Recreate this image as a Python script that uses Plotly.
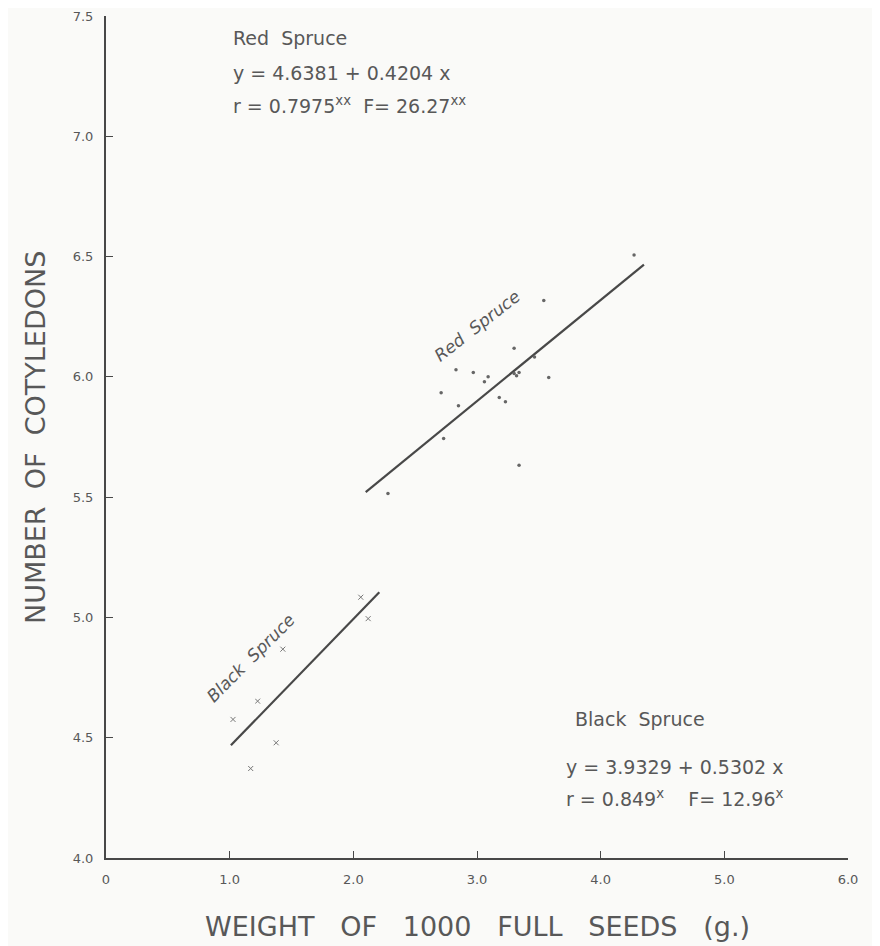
import plotly.graph_objects as go

# Red spruce data (weight of 1000 full seeds g, number of cotyledons)
red_x = [4.27, 3.54, 3.30, 3.465, 2.83, 2.97, 3.09, 3.06, 3.30, 3.34, 3.32, 3.58, 2.71, 2.85, 3.18, 3.23, 2.73, 3.34, 2.28]
red_y = [6.507, 6.317, 6.119, 6.083, 6.03, 6.018, 6.0, 5.98, 6.014, 6.018, 6.005, 5.997, 5.934, 5.88, 5.914, 5.897, 5.744, 5.633, 5.515]

# Black spruce data
black_x = [2.06, 2.12, 1.43, 1.226, 1.027, 1.376, 1.17]
black_y = [5.084, 4.995, 4.868, 4.652, 4.576, 4.479, 4.372]

# Regression equations and ranges
red_a, red_b = 4.6381, 0.4204
red_range = [2.1, 4.35]
black_a, black_b = 3.9329, 0.5302
black_range = [1.01, 2.21]

x_ticks = [0, 1, 2, 3, 4, 5, 6]
x_ticktext = ["0", "1.0", "2.0", "3.0", "4.0", "5.0", "6.0"]
y_ticks = [4.0, 4.5, 5.0, 5.5, 6.0, 6.5, 7.0, 7.5]
y_ticktext = ["4.0", "4.5", "5.0", "5.5", "6.0", "6.5", "7.0", "7.5"]

INK = "#585858"
AXIS = "#484848"
FONT = "DejaVu Sans"

fig = go.Figure()

fig.add_trace(go.Scatter(
    x=red_range, y=[red_a + red_b * v for v in red_range],
    mode="lines", line=dict(color=AXIS, width=2.2), showlegend=False))
fig.add_trace(go.Scatter(
    x=black_range, y=[black_a + black_b * v for v in black_range],
    mode="lines", line=dict(color=AXIS, width=2.2), showlegend=False))
fig.add_trace(go.Scatter(
    x=red_x, y=red_y, mode="markers",
    marker=dict(color="#666666", size=3.5, symbol="circle"), showlegend=False))
fig.add_trace(go.Scatter(
    x=black_x, y=black_y, mode="markers",
    marker=dict(color="#777777", size=5, symbol="x-thin", line=dict(color="#777777", width=1)),
    showlegend=False))

annots = [
    dict(x=1.01, y=7.41, text="Red  Spruce"),
    dict(x=1.01, y=7.264, text="y = 4.6381 + 0.4204 x"),
    dict(x=1.01, y=7.128, text="r = 0.7975<sup>xx</sup>  F= 26.27<sup>xx</sup>"),
    dict(x=3.78, y=4.579, text="Black  Spruce"),
    dict(x=3.70, y=4.38, text="y = 3.9329 + 0.5302 x"),
    dict(x=3.70, y=4.248, text="r = 0.849<sup>x</sup>    F= 12.96<sup>x</sup>"),
]
for a in annots:
    fig.add_annotation(x=a["x"], y=a["y"], text=a["text"], showarrow=False,
                       xanchor="left", yanchor="middle",
                       font=dict(family=FONT, size=19, color=INK))

fig.add_annotation(x=3.0, y=6.21, text="<i>Red  Spruce</i>", showarrow=False,
                   textangle=-38, font=dict(family=FONT, size=17, color=INK))
fig.add_annotation(x=1.17, y=4.83, text="<i>Black  Spruce</i>", showarrow=False,
                   textangle=-45, font=dict(family=FONT, size=17, color=INK))

# axis titles
fig.add_annotation(xref="paper", yref="paper", x=0.5, y=-0.081,
                   text="WEIGHT   OF   1000   FULL   SEEDS   (g.)", showarrow=False,
                   xanchor="center", yanchor="middle",
                   font=dict(family=FONT, size=27, color=INK))
fig.add_annotation(xref="paper", yref="paper", x=-0.0957, y=0.5,
                   text="NUMBER  OF  COTYLEDONS", showarrow=False, textangle=-90,
                   xanchor="center", yanchor="middle",
                   font=dict(family=FONT, size=27, color=INK))

fig.update_layout(
    width=872, height=938,
    margin=dict(l=98, r=32, t=8, b=88),
    paper_bgcolor="#fafaf8", plot_bgcolor="#fafaf8",
    font=dict(family=FONT, color=INK),
    xaxis=dict(range=[0, 6], tickvals=x_ticks, ticktext=x_ticktext, automargin=False,
               showgrid=False, zeroline=False, showline=True, linecolor=AXIS, linewidth=2,
               ticks="inside", ticklen=7, tickcolor=AXIS, tickwidth=1,
               ticklabelstandoff=8, ticklabeloverflow="allow",
               tickfont=dict(family=FONT, size=13, color=INK)),
    yaxis=dict(range=[4.0, 7.5], tickvals=y_ticks, ticktext=y_ticktext, automargin=False,
               showgrid=False, zeroline=False, showline=True, linecolor=AXIS, linewidth=2,
               ticks="inside", ticklen=7, tickcolor=AXIS, tickwidth=1,
               ticklabelstandoff=8, ticklabeloverflow="allow",
               tickfont=dict(family=FONT, size=13, color=INK)),
)

fig.write_html("out.html")
